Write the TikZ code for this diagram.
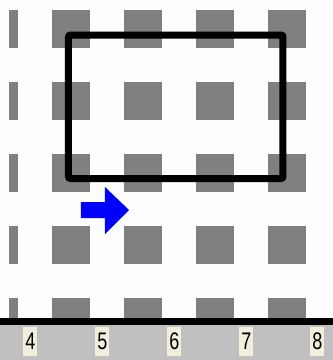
\documentclass[tikz,border=0pt]{standalone}
\usepackage{fontspec}
\setmainfont{Liberation Sans}
\definecolor{sq}{HTML}{808080}
\definecolor{strip}{HTML}{C0C0C0}
\definecolor{lbl}{HTML}{F2EEDC}
\definecolor{bg}{HTML}{FDFDFD}
\begin{document}
\begin{tikzpicture}[x=1pt,y=-1pt,
  cell/.style={fill=sq},
  tick/.style={fill=lbl, inner sep=0pt, minimum width=14pt, minimum height=29pt,
    font=\fontsize{24}{24}\selectfont, text=black},
  frame/.style={draw=black, line width=7pt, rounded corners=2pt},
  pointer/.style={fill=blue, draw=white, line width=5pt, line join=round}]
\useasboundingbox (0,0) rectangle (333,360);
\fill[bg] (0,0) rectangle (333,360);
% grid of squares
\foreach \y in {10,82,154,226,298}{
  \fill[cell] (9,\y) rectangle (18,\y+38);
  \foreach \x in {52,124,196,268}{
    \fill[cell] (\x,\y) rectangle (\x+38,\y+38);
  }
}
% arrow with white halo
\draw[pointer] (81,202) -- (105,202) -- (105,187) -- (129,210) -- (105,234) -- (105,218) -- (81,218) -- cycle;
\fill[blue] (81,202) -- (105,202) -- (105,187) -- (129,210) -- (105,234) -- (105,218) -- (81,218) -- cycle;
% selection frame
\draw[frame] (68.5,35) rectangle (283,178.5);
% axis
\fill[strip] (0,325) rectangle (333,360);
\fill[black] (0,318) rectangle (333,325);
\node[tick] (t4) at (30.5,341.5) {\scalebox{0.75}[1]{4}};
\node[tick] (t5) at (102.5,341.5) {\scalebox{0.75}[1]{5}};
\node[tick] (t6) at (174.5,341.5) {\scalebox{0.75}[1]{6}};
\node[tick] (t7) at (246.5,341.5) {\scalebox{0.75}[1]{7}};
\node[tick] (t8) at (317.5,341.5) {\scalebox{0.75}[1]{8}};
\end{tikzpicture}
\end{document}
